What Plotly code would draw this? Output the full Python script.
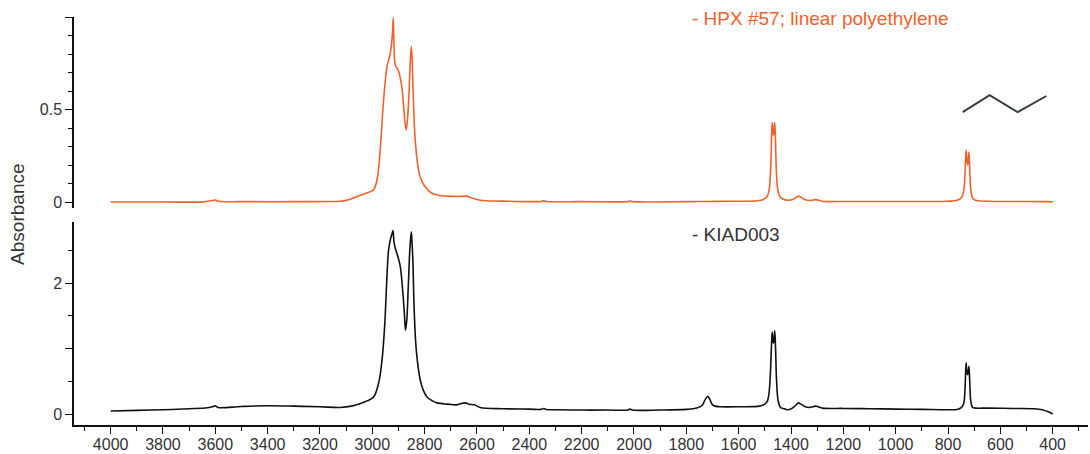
import plotly.graph_objects as go

# ---------------- data ----------------
top_name = "HPX #57; linear polyethylene"
top_wn = [4000, 3800, 3650, 3612, 3600, 3588, 3500, 3300, 3150, 3122, 3090, 3058, 3030,
          2996, 2982, 2970, 2957, 2944, 2932, 2925, 2922, 2920, 2917, 2912, 2900, 2887,
          2880, 2871, 2866, 2861, 2856, 2851, 2847, 2845, 2836, 2823, 2810, 2798, 2775,
          2753, 2710, 2677, 2655, 2639, 2620, 2588, 2500, 2355, 2345, 2335, 2200, 2025,
          2015, 2005, 1800, 1720, 1600, 1530, 1505, 1492, 1484, 1478, 1474, 1472, 1469,
          1467, 1465, 1462, 1459, 1455, 1449, 1440, 1425, 1400, 1385, 1372, 1362, 1350,
          1325, 1306, 1296, 1280, 1200, 1100, 1000, 900, 800, 765, 748, 740, 735, 731,
          728, 725, 723, 720, 717, 713, 706, 695, 650, 500, 420, 400]
top_ab = [0.0, 0.0, 0.001, 0.008, 0.011, 0.004, 0.002, 0.002, 0.003, 0.004, 0.012, 0.03, 0.045,
          0.065, 0.12, 0.28, 0.55, 0.73, 0.80, 0.875, 0.93, 0.995, 0.85, 0.74, 0.71, 0.62,
          0.51, 0.39, 0.44, 0.55, 0.72, 0.84, 0.75, 0.64, 0.335, 0.17, 0.11, 0.083, 0.05,
          0.038, 0.032, 0.03, 0.031, 0.032, 0.022, 0.01, 0.005, 0.003, 0.006, 0.003, 0.002, 0.002,
          0.005, 0.002, 0.002, 0.003, 0.004, 0.007, 0.014, 0.028, 0.06, 0.17, 0.36, 0.43, 0.38,
          0.36, 0.38, 0.43, 0.32, 0.14, 0.055, 0.025, 0.013, 0.011, 0.02, 0.032, 0.026, 0.015,
          0.008, 0.013, 0.011, 0.004, 0.003, 0.003, 0.003, 0.003, 0.004, 0.009, 0.025, 0.06, 0.15, 0.28,
          0.23, 0.2, 0.22, 0.27, 0.17, 0.07, 0.022, 0.009, 0.004, 0.003, 0.002, 0.001]

bot_name = "KIAD003"
bot_wn = [4000, 3900, 3800, 3700, 3630, 3610, 3600, 3590, 3500, 3400, 3300, 3200, 3122,
          3080, 3046, 3020, 2995, 2976, 2963, 2953, 2944, 2938, 2930, 2924, 2921, 2917,
          2912, 2906, 2900, 2893, 2883, 2877, 2873, 2868, 2862, 2856, 2851, 2848, 2845,
          2840, 2832, 2817, 2805, 2791, 2770, 2753, 2710, 2677, 2660, 2645, 2630, 2610,
          2588, 2500, 2400, 2355, 2345, 2335, 2300, 2200, 2100, 2025, 2015, 2005, 1900,
          1800, 1760, 1740, 1728, 1718, 1710, 1700, 1690, 1670, 1600, 1520, 1500, 1490,
          1484, 1479, 1475, 1472, 1469, 1467, 1465, 1462, 1459, 1455, 1449, 1440, 1425,
          1410, 1395, 1380, 1372, 1362, 1350, 1330, 1306, 1296, 1280, 1200, 1100, 1000,
          900, 800, 765, 748, 740, 735, 731, 728, 725, 723, 720, 717, 713, 706, 695, 650,
          550, 470, 440, 415, 400]
bot_ab = [0.046, 0.055, 0.065, 0.08, 0.095, 0.11, 0.125, 0.10, 0.115, 0.125, 0.12, 0.11, 0.10,
          0.12, 0.16, 0.2, 0.26, 0.47, 0.82, 1.33, 2.1, 2.5, 2.68, 2.76, 2.80, 2.62,
          2.53, 2.45, 2.37, 2.25, 1.84, 1.5, 1.28, 1.45, 2.0, 2.55, 2.78, 2.6, 2.35,
          1.59, 0.98, 0.52, 0.36, 0.26, 0.2, 0.17, 0.15, 0.14, 0.16, 0.17, 0.15, 0.14,
          0.10, 0.08, 0.075, 0.07, 0.085, 0.07, 0.065, 0.06, 0.06, 0.06, 0.075, 0.06, 0.06,
          0.07, 0.09, 0.13, 0.22, 0.27, 0.22, 0.14, 0.12, 0.11, 0.11, 0.12, 0.15, 0.2,
          0.32, 0.6, 1.0, 1.25, 1.12, 1.08, 1.12, 1.27, 1.0, 0.5, 0.2, 0.1, 0.08,
          0.065, 0.09, 0.14, 0.17, 0.15, 0.12, 0.1, 0.12, 0.11, 0.09, 0.085, 0.08, 0.075,
          0.07, 0.065, 0.07, 0.1, 0.16, 0.38, 0.78, 0.64, 0.6, 0.64, 0.73, 0.5, 0.2, 0.1, 0.09, 0.09,
          0.085, 0.08, 0.065, 0.03, 0.0]

# decorative molecule glyph (wavenumber, absorbance in top panel)
glyph_wn = [744, 641, 534, 424]
glyph_ab = [0.486, 0.578, 0.486, 0.573]

x_tick_vals = list(range(4000, 399, -200))
x_tick_text = [str(v) for v in x_tick_vals]
top_tick_vals = [0, 0.5, 1.0]
top_tick_text = ["0", "0.5", ""]
bot_tick_vals = [0, 1, 2]
bot_tick_text = ["0", "", "2"]

# ---------------- styles ----------------
ORANGE = "#F0622A"
BLACK = "#111111"
TXT = "#333333"
FONT = "Liberation Sans, Arial, sans-serif"

fig = go.Figure()
fig.add_trace(go.Scatter(x=top_wn, y=top_ab, mode="lines", yaxis="y2", xaxis="x",
                         line=dict(color=ORANGE, width=1.6), name=top_name, showlegend=False,
                         line_shape="spline"))
fig.add_trace(go.Scatter(x=bot_wn, y=bot_ab, mode="lines", yaxis="y", xaxis="x",
                         line=dict(color=BLACK, width=1.6), name=bot_name, showlegend=False,
                         line_shape="spline"))

path = "M " + " L ".join(f"{w},{a}" for w, a in zip(glyph_wn, glyph_ab))
fig.add_shape(type="path", path=path, xref="x", yref="y2",
              line=dict(color="#333d40", width=2))

axis_common = dict(showline=True, linecolor=BLACK, linewidth=1.5, ticks="outside",
                   tickcolor=BLACK, tickwidth=1.2, showgrid=False, zeroline=False,
                   tickfont=dict(family=FONT, size=16, color=TXT))

fig.update_layout(
    width=1090, height=454,
    margin=dict(l=74, r=2, t=17, b=29),
    paper_bgcolor="white", plot_bgcolor="white",
    xaxis=dict(range=[4140, 265], tickmode="array", tickvals=x_tick_vals, ticktext=x_tick_text,
               ticklen=7, anchor="y", ticklabelstandoff=-3,
               minor=dict(tickmode="linear", tick0=0, dtick=100, ticklen=4, ticks="outside",
                          tickcolor=BLACK, tickwidth=1.2),
               **axis_common),
    yaxis=dict(domain=[0, 0.4975], range=[-0.168, 2.931], tickmode="array",
               tickvals=bot_tick_vals, ticktext=bot_tick_text, ticklen=7, anchor="x",
               minor=dict(tickmode="linear", tick0=0, dtick=0.5, ticklen=4, ticks="outside",
                          tickcolor=BLACK, tickwidth=1.2),
               **axis_common),
    yaxis2=dict(domain=[0.532, 1.0], range=[-0.032, 1.0], tickmode="array",
                tickvals=top_tick_vals, ticktext=top_tick_text, ticklen=7, anchor="x",
                minor=dict(tickmode="linear", tick0=0, dtick=0.1, ticklen=4, ticks="outside",
                           tickcolor=BLACK, tickwidth=1.2),
                **axis_common),
)

fig.add_annotation(text="Absorbance", xref="paper", yref="paper", x=0, y=0.515,
                   xshift=-56, textangle=-90, showarrow=False, xanchor="center", yanchor="middle",
                   font=dict(family=FONT, size=19, color=TXT))
fig.add_annotation(text="- " + top_name, xref="paper", yref="paper", x=0.6075, y=0.9975,
                   showarrow=False, xanchor="left", yanchor="middle",
                   font=dict(family=FONT, size=19, color=ORANGE))
fig.add_annotation(text="- " + bot_name, xref="paper", yref="paper", x=0.6075, y=0.468,
                   showarrow=False, xanchor="left", yanchor="middle",
                   font=dict(family=FONT, size=19, color=TXT))

fig.write_html("out.html")
